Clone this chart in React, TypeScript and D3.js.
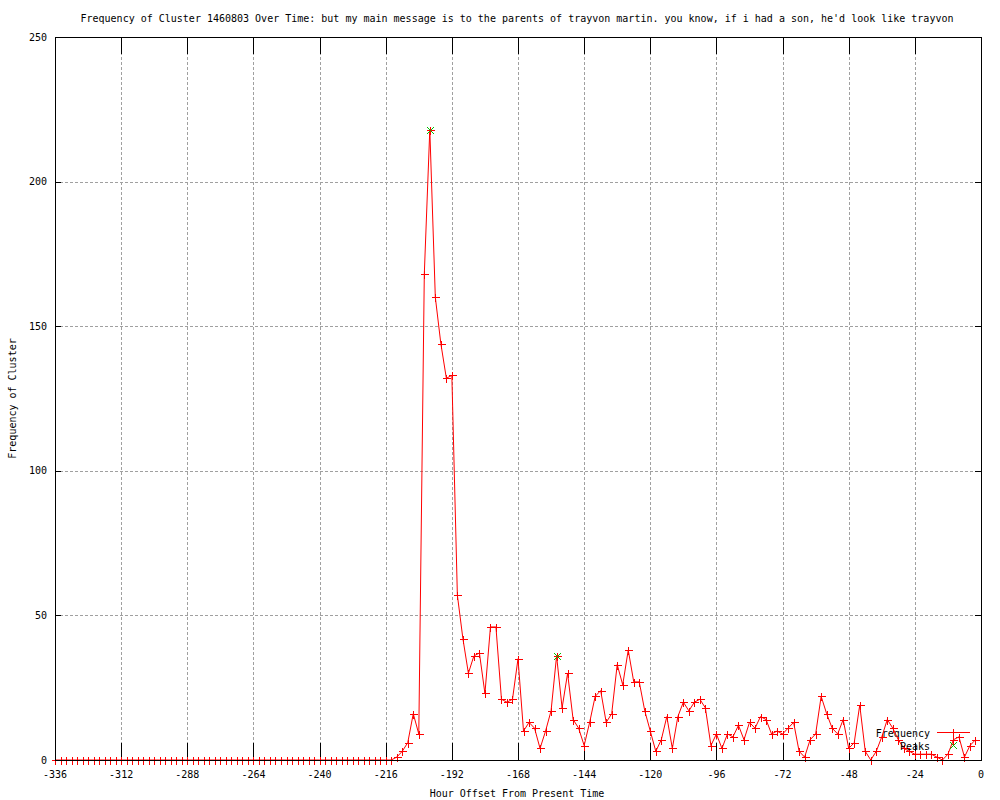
import React from 'react';
import * as d3 from 'd3';

const TITLE = "Frequency of Cluster 1460803 Over Time: but my main message is to the parents of trayvon martin. you know, if i had a son, he'd look like trayvon";
const X_LABEL = 'Hour Offset From Present Time';
const Y_LABEL = 'Frequency of Cluster';

const START_HOUR = -336;
const STEP_HOURS = 2;

// Frequency per 2-hour bin, from -336 to -2
const frequency = [
  0, 0, 0, 0, 0, 0, 0, 0, 0, 0, 0, 0, 0, 0, 0, 0, 0, 0, 0, 0,
  0, 0, 0, 0, 0, 0, 0, 0, 0, 0, 0, 0, 0, 0, 0, 0, 0, 0, 0, 0,
  0, 0, 0, 0, 0, 0, 0, 0, 0, 0, 0, 0, 0, 0, 0, 0, 0, 0, 0, 0,
  0, 0,
  1, 3, 6, 16, 9, 168, 218, 160, 144, 132, 133, 57,
  42, 30, 36, 37, 23, 46, 46, 21, 20, 21, 35, 10,
  13, 11, 4, 10, 17, 36, 18, 30, 14, 11, 5, 13,
  22, 24, 13, 16, 33, 26, 38, 27, 27, 17, 10, 3,
  7, 15, 4, 15, 20, 17, 20, 21, 18, 5, 9, 4,
  9, 8, 12, 7, 13, 11, 15, 14, 9, 10, 9, 11,
  13, 3, 1, 7, 9, 22, 16, 11, 9, 14, 4, 6,
  19, 3, 0, 3, 8, 14, 11, 7, 4, 3, 2, 2,
  2, 2, 1, 0, 2, 7, 8, 1, 5, 7,
];

const peakHours = [-200, -154];
const peakValues = [218, 36];

const xTicks = [-336, -312, -288, -264, -240, -216, -192, -168, -144, -120, -96, -72, -48, -24, 0];
const yTicks = [0, 50, 100, 150, 200, 250];

const FONT = '"DejaVu Sans Mono", "Liberation Mono", monospace';
const RED = '#ff0000';
const GREEN = '#00c000';

const PL = 55, PR = 981, PT = 37, PB = 760;

export default function App() {
  const x = d3.scaleLinear().domain([-336, 0]).range([PL, PR]);
  const y = d3.scaleLinear().domain([0, 250]).range([PB, PT]);

  const pts: [number, number][] = frequency.map((v, i) => [START_HOUR + i * STEP_HOURS, v]);
  const line = d3.line<[number, number]>().x(d => x(d[0])).y(d => y(d[1]));
  const pathD = line(pts) || '';

  const r = (v: number) => Math.round(v) + 0.5;

  const plus = (cx: number, cy: number, s = 4) =>
    `M${cx - s},${cy}H${cx + s}M${cx},${cy - s}V${cy + s}`;
  const cross = (cx: number, cy: number, s = 3.5) =>
    `M${cx - s},${cy - s}L${cx + s},${cy + s}M${cx - s},${cy + s}L${cx + s},${cy - s}`;

  const markers = pts.map(d => plus(r(x(d[0])), r(y(d[1])))).join('');
  const peakMarks = peakHours.map((h, i) => cross(r(x(h)), r(y(peakValues[i])))).join('');

  const legX1 = 937, legX2 = 970, legMid = 953.5;
  const legY1 = 732.5, legY2 = 745.5;

  return (
    <svg width={1000} height={800} viewBox="0 0 1000 800"
      style={{ position: 'absolute', left: 0, top: 0, background: '#fff' }}
      fontFamily={FONT} fontSize={10}>
      <rect x={0} y={0} width={1000} height={800} fill="#fff" />
      {/* grid */}
      <g stroke="#a0a0a0" strokeWidth={1} strokeDasharray="3,2" shapeRendering="crispEdges">
        {xTicks.slice(1, -1).map(t => (
          <line key={'gx' + t} x1={r(x(t))} x2={r(x(t))} y1={PT} y2={PB} />
        ))}
        {yTicks.slice(1, -1).map(t => (
          <line key={'gy' + t} x1={PL} x2={PR} y1={r(y(t))} y2={r(y(t))} />
        ))}
      </g>
      {/* ticks */}
      <g stroke="#000" strokeWidth={1} shapeRendering="crispEdges">
        {xTicks.map(t => (
          <g key={'tx' + t}>
            <line x1={r(x(t))} x2={r(x(t))} y1={PB} y2={PB - 17} />
            <line x1={r(x(t))} x2={r(x(t))} y1={PT} y2={PT + 17} />
          </g>
        ))}
        {yTicks.map(t => (
          <g key={'ty' + t}>
            <line x1={PL} x2={PL + 6} y1={r(y(t))} y2={r(y(t))} />
            <line x1={PR} x2={PR - 6} y1={r(y(t))} y2={r(y(t))} />
          </g>
        ))}
      </g>
      {/* tick labels */}
      <g fill="#000">
        {xTicks.map(t => (
          <text key={'lx' + t} x={x(t)} y={778} textAnchor="middle">{t === 0 ? '0' : '-' + Math.abs(t)}</text>
        ))}
        {yTicks.map(t => (
          <text key={'ly' + t} x={47} y={y(t) + 3.5} textAnchor="end">{t}</text>
        ))}
      </g>
      {/* titles */}
      <text x={517} y={22} textAnchor="middle" fill="#000">{TITLE}</text>
      <text x={517} y={797} textAnchor="middle" fill="#000">{X_LABEL}</text>
      <text transform={`translate(16,${(PT + PB) / 2}) rotate(-90)`} textAnchor="middle" fill="#000">{Y_LABEL}</text>

      {/* legend: Frequency */}
      <text x={930} y={legY1 + 4} textAnchor="end" fill="#000">Frequency</text>
      <g stroke={RED} strokeWidth={1} fill="none" shapeRendering="crispEdges">
        <line x1={legX1} x2={legX2} y1={legY1} y2={legY1} />
        <path d={plus(legMid, legY1)} />
      </g>
      {/* data */}
      <path d={pathD} fill="none" stroke={RED} strokeWidth={1} />
      <path d={markers} fill="none" stroke={RED} strokeWidth={1} shapeRendering="crispEdges" />

      {/* legend: Peaks */}
      <text x={930} y={legY2 + 4} textAnchor="end" fill="#000">Peaks</text>
      <path d={cross(legMid, legY2)} fill="none" stroke={GREEN} strokeWidth={1} />
      <path d={peakMarks} fill="none" stroke={GREEN} strokeWidth={1} />

      {/* border */}
      <rect x={PL + 0.5} y={PT + 0.5} width={PR - PL} height={PB - PT} fill="none" stroke="#000" strokeWidth={1} shapeRendering="crispEdges" />
    </svg>
  );
}
